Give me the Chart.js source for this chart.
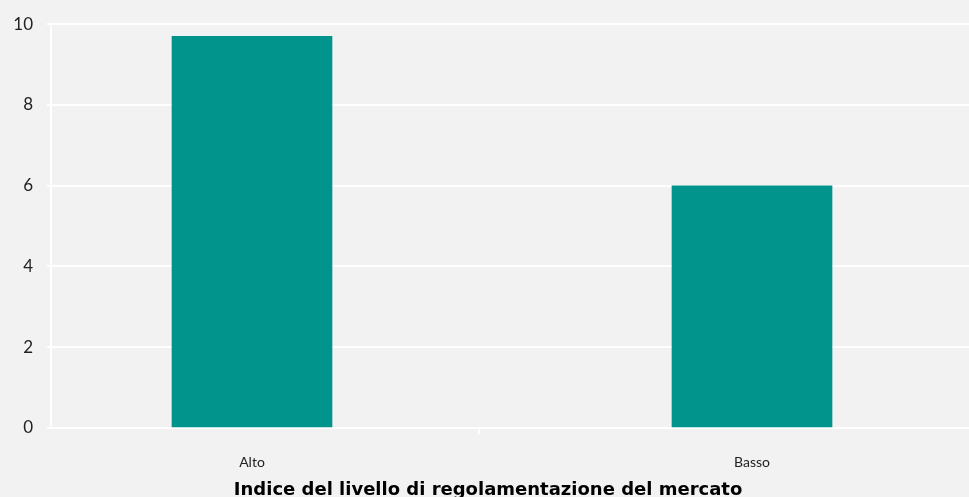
<!DOCTYPE html>
<html>
<head>
<meta charset="utf-8">
<script src="https://cdn.jsdelivr.net/npm/chart.js@4"></script>
<style>
  html, body { margin: 0; padding: 0; background: #f2f2f2; }
  #wrap { width: 969px; height: 497px; }
</style>
</head>
<body>
<div id="wrap"><canvas id="bars"></canvas></div>
<script>
var categories = ['Alto', 'Basso'];
var values = [9.7, 6.0];
var yTicks = [0, 2, 4, 6, 8, 10];
var axisTitle = 'Indice del livello di regolamentazione del mercato';

var points = values.map(function(v, i) { return { x: i, y: v }; });

var ctx = document.getElementById('bars').getContext('2d');
var myChart = new Chart(ctx, {
    type: 'bar',
    data: {
        datasets: [{
            data: points,
            backgroundColor: '#00948c',
            borderWidth: 0,
            barThickness: 160
        }]
    },
    options: {
        responsive: true,
        maintainAspectRatio: false,
        animation: false,
        layout: { padding: { top: 24, left: 0, right: 0, bottom: 0 } },
        plugins: {
            legend: { display: false },
            tooltip: { enabled: false }
        },
        scales: {
            x: {
                type: 'linear',
                offset: false,
                min: -0.402,
                max: 1.434,
                afterBuildTicks: function(scale) {
                    // category ticks plus the small separator mark
                    scale.ticks = [{ value: 0 }, { value: 0.454 }, { value: 1 }];
                },
                afterFit: function(scale) { scale.height = 69; },
                grid: {
                    offset: false,
                    drawOnChartArea: false,
                    tickLength: 6,
                    lineWidth: 2,
                    color: function(c) {
                        return (c.tick && c.tick.value === 0.454) ? '#ffffff' : 'rgba(0,0,0,0)';
                    }
                },
                border: { display: false },
                ticks: {
                    autoSkip: false,
                    maxRotation: 0,
                    padding: 20,
                    color: '#222222',
                    font: { family: 'Lato', size: 14 },
                    callback: function(v) {
                        return categories[v] !== undefined && Number.isInteger(v) ? categories[v] : '';
                    }
                },
                title: {
                    display: true,
                    // trailing spaces nudge the centred title a little to the left
                    text: axisTitle + '       ',
                    color: '#000000',
                    font: { family: 'DejaVu Sans', size: 18, weight: 'bold' },
                    padding: { top: 5, bottom: -4 }
                }
            },
            y: {
                min: 0,
                max: 10,
                afterBuildTicks: function(scale) {
                    scale.ticks = yTicks.map(function(t) { return { value: t }; });
                },
                afterFit: function(scale) { scale.width = 51; },
                grid: {
                    color: '#ffffff',
                    lineWidth: 2,
                    tickLength: 4
                },
                border: { display: true, color: '#ffffff', width: 2 },
                ticks: {
                    padding: 14,
                    color: '#222222',
                    font: { family: 'Lato', size: 17 }
                }
            }
        }
    }
});
</script>
</body>
</html>
